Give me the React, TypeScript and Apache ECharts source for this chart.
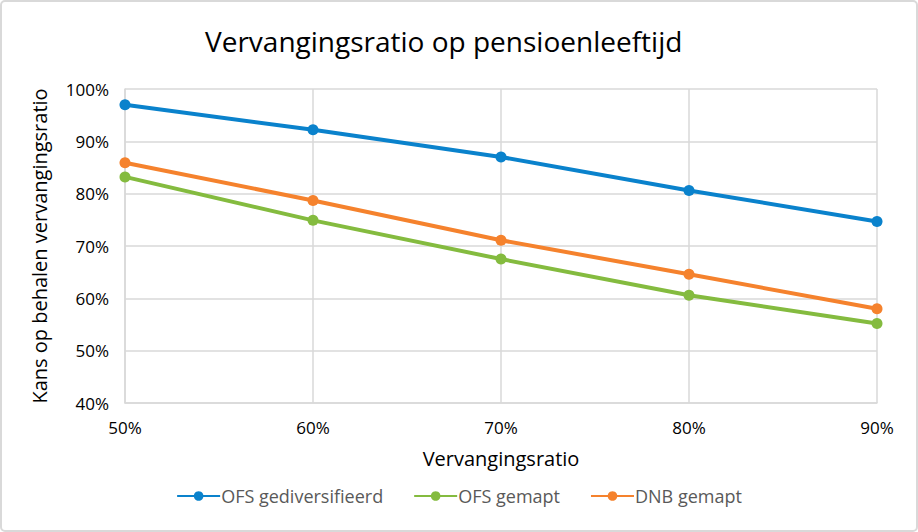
import React, { useEffect, useRef } from "react";
import * as echarts from "echarts";

const categories = [50, 60, 70, 80, 90];
const ofsGediversifieerd = [97.0, 92.2, 87.0, 80.6, 74.7];
const ofsGemapt = [83.2, 74.9, 67.5, 60.6, 55.2];
const dnbGemapt = [85.9, 78.7, 71.1, 64.6, 58.0];
const seriesNames = ["OFS gediversifieerd", "OFS gemapt", "DNB gemapt"];
const colors = ["#0A82CC", "#84BB3F", "#F5822D"];

const FONT = "'Open Sans', 'Noto Sans', sans-serif";

export default function App() {
  const ref = useRef<HTMLDivElement>(null);
  useEffect(() => {
    if (!ref.current) return;
    const chart = echarts.init(ref.current, undefined, { renderer: "svg" });
    const mk = (name: string, vals: number[], color: string) => ({
      name,
      type: "line",
      data: categories.map((c, i) => [c, vals[i]]),
      lineStyle: { width: 4, color },
      itemStyle: { color },
      symbol: "circle",
      symbolSize: 11,
    });
    chart.setOption({
      animation: false,
      textStyle: { fontFamily: FONT },
      title: {
        text: "Vervangingsratio op pensioenleeftijd",
        left: 200,
        top: 22,
        textStyle: { fontFamily: FONT, fontSize: 28, fontWeight: "normal", color: "#000" },
      },
      graphic: [
        {
          type: "rect",
          shape: { x: 1, y: 1, width: 916, height: 530, r: 4 },
          style: { fill: "none", stroke: "#D9D9D9", lineWidth: 2 },
          silent: true,
        },
      ],
      grid: { left: 125, right: 41, top: 89, bottom: 129 },
      legend: {
        bottom: 22,
        left: "center",
        itemWidth: 43,
        itemHeight: 12,
        itemGap: 30,
        data: seriesNames,
        textStyle: { fontFamily: FONT, fontSize: 18, color: "#595959", padding: [0, 0, 0, -4] },
      },
      xAxis: {
        type: "value",
        min: 50,
        max: 90,
        interval: 10,
        name: "Vervangingsratio",
        nameLocation: "middle",
        nameGap: 45,
        nameTextStyle: { fontFamily: FONT, fontSize: 20, color: "#000" },
        axisLine: { show: true, lineStyle: { color: "#D9D9D9", width: 1.5 } },
        axisTick: { show: false },
        axisLabel: { formatter: (v: number) => v + "%", fontSize: 17, color: "#000", margin: 16, fontFamily: FONT },
        splitLine: { show: true, lineStyle: { color: "#D9D9D9", width: 1.5 } },
      },
      yAxis: {
        type: "value",
        min: 40,
        max: 100,
        interval: 10,
        name: "Kans op behalen vervangingsratio",
        nameLocation: "middle",
        nameGap: 76,
        nameTextStyle: { fontFamily: FONT, fontSize: 20, color: "#000" },
        axisLine: { show: true, lineStyle: { color: "#D9D9D9", width: 1.5 } },
        axisTick: { show: false },
        axisLabel: { formatter: (v: number) => v + "%", fontSize: 17, color: "#000", margin: 16, fontFamily: FONT },
        splitLine: { show: true, lineStyle: { color: "#D9D9D9", width: 1.5 } },
      },
      series: [
        mk(seriesNames[0], ofsGediversifieerd, colors[0]),
        mk(seriesNames[1], ofsGemapt, colors[1]),
        mk(seriesNames[2], dnbGemapt, colors[2]),
      ],
    });
    return () => chart.dispose();
  }, []);
  return (
    <div
      ref={ref}
      style={{ position: "fixed", left: 0, top: 0, width: 918, height: 532, background: "#fff" }}
    />
  );
}
